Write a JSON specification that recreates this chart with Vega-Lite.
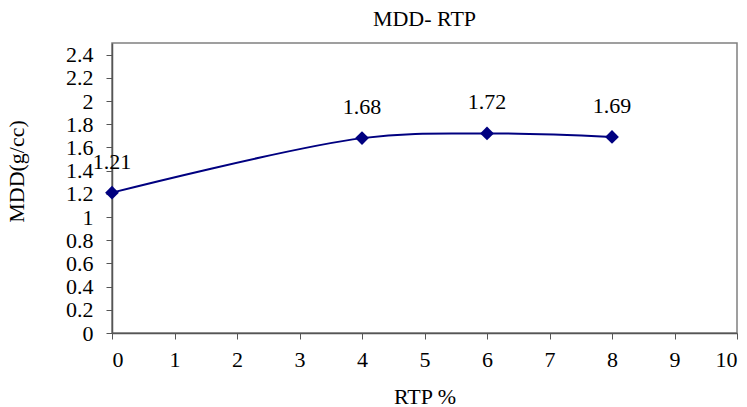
{
  "$schema": "https://vega.github.io/schema/vega-lite/v6.json",
  "width": 625,
  "height": 290,
  "autosize": {"type": "none"},
  "padding": {"left": 112, "top": 43, "right": 10, "bottom": 74},
  "background": "white",
  "title": {
    "text": "MDD- RTP",
    "font": "Liberation Serif",
    "fontSize": 22,
    "fontWeight": "normal",
    "color": "black",
    "offset": 12
  },
  "config": {
    "view": {"stroke": "#808080", "strokeWidth": 1.5},
    "axis": {
      "labelFont": "Liberation Serif",
      "labelFontSize": 22,
      "labelColor": "black",
      "titleFont": "Liberation Serif",
      "titleFontSize": 22,
      "titleFontWeight": "normal",
      "titleColor": "black",
      "domainColor": "#555555",
      "domainWidth": 1.5,
      "tickColor": "#555555",
      "tickSize": 6,
      "grid": false
    }
  },
  "data": {
    "values": [
      {"rtp": 0, "mdd": 1.21},
      {"rtp": 4, "mdd": 1.68},
      {"rtp": 6, "mdd": 1.72},
      {"rtp": 8, "mdd": 1.69}
    ]
  },
  "encoding": {
    "x": {
      "field": "rtp",
      "type": "quantitative",
      "scale": {"domain": [0, 10], "nice": false},
      "axis": {"values": [0,1,2,3,4,5,6,7,8,9,10], "format": "~f", "title": "RTP %", "labelPadding": 10, "titlePadding": 16}
    },
    "y": {
      "field": "mdd",
      "type": "quantitative",
      "scale": {"domain": [0, 2.5], "nice": false},
      "axis": {"values": [0,0.2,0.4,0.6,0.8,1,1.2,1.4,1.6,1.8,2,2.2,2.4], "format": "~f", "title": "MDD(g/cc)", "labelPadding": 13, "titleX": -84, "titleY": 128}
    }
  },
  "layer": [
    {
      "mark": {"type": "line", "color": "#000080", "strokeWidth": 2, "interpolate": "catmull-rom"}
    },
    {
      "mark": {"type": "point", "shape": "diamond", "filled": true, "color": "#000080", "size": 190, "opacity": 1}
    },
    {
      "mark": {"type": "text", "font": "Liberation Serif", "fontSize": 22, "color": "black", "dy": -31},
      "encoding": {"text": {"field": "mdd", "type": "quantitative", "format": ".2f"}}
    }
  ]
}
